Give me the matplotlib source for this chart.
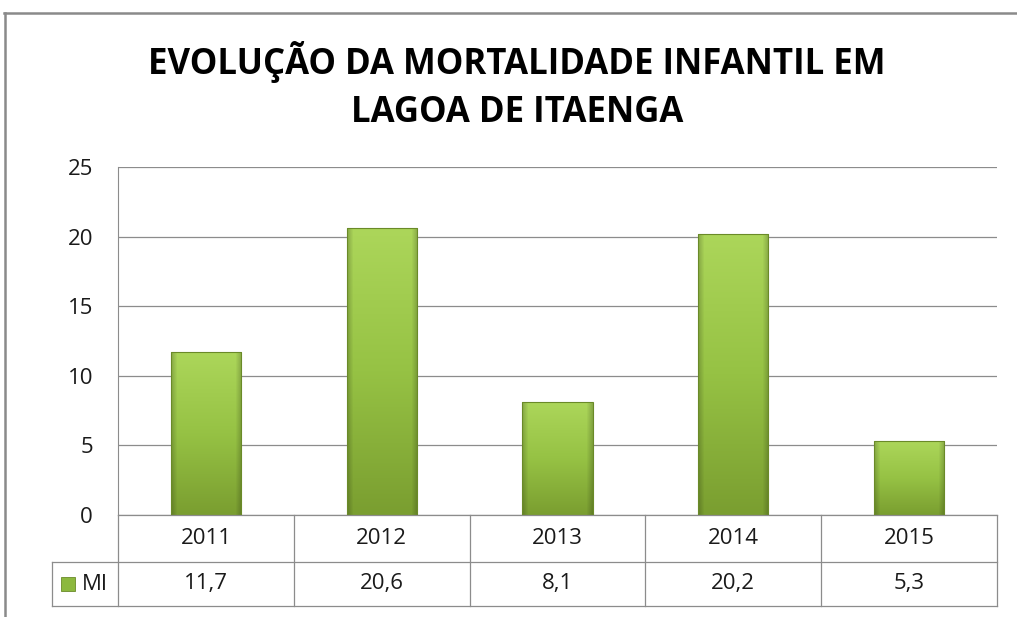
import numpy as np
import matplotlib
matplotlib.use("Agg")
import matplotlib.pyplot as plt
from matplotlib.colors import LinearSegmentedColormap

# data
years = ['2011', '2012', '2013', '2014', '2015']
mi = [11.7, 20.6, 8.1, 20.2, 5.3]
mi_labels = ['11,7', '20,6', '8,1', '20,2', '5,3']
series_name = 'MI'
title_lines = ['EVOLUÇÃO DA MORTALIDADE INFANTIL EM', 'LAGOA DE ITAENGA']

plt.rcParams['font.family'] = ['Open Sans', 'DejaVu Sans']

W, H = 1017, 617
fig = plt.figure(figsize=(W / 100, H / 100), dpi=100)

# plot area in pixels: left 118, right 997, top 167, bottom 515
ax = fig.add_axes([118 / W, 1 - 515 / H, (997 - 118) / W, (515 - 167) / H])

x = np.arange(len(years))
bars = ax.bar(x, mi, width=0.4, color='none', edgecolor='#6a8a28',
              linewidth=0.8, zorder=3)

# green gradient with a little bevel on each bar
cmap = LinearSegmentedColormap.from_list('g', ['#acd65a', '#96c244', '#7a9e30'])
ny, nx = 200, 60
vert = cmap(np.linspace(0, 1, ny))[:, :3]
img = np.repeat(vert[:, None, :], nx, axis=1)
shade = np.ones((ny, nx))
edge = 5
for i in range(edge):
    f = 0.80 + 0.2 * i / edge
    shade[:, i] *= f
    shade[:, nx - 1 - i] *= f
img = np.clip(img * shade[:, :, None], 0, 1)
for b in bars:
    im = ax.imshow(img, extent=[b.get_x(), b.get_x() + b.get_width(), 0, b.get_height()],
                   aspect='auto', origin='upper', zorder=2, interpolation='bilinear')
    im.set_clip_path(b)

ax.set_xlim(-0.5, len(years) - 0.5)
ax.set_ylim(0, 25)
ax.set_yticks([0, 5, 10, 15, 20, 25])
ax.set_xticks([])
ax.yaxis.grid(True, color='#8c8c8c', linewidth=0.9, zorder=0)
ax.set_axisbelow(True)
for s in ['top', 'right', 'bottom']:
    ax.spines[s].set_visible(False)
ax.spines['left'].set_color('#8c8c8c')
ax.tick_params(axis='y', length=0, pad=18, labelsize=16, labelcolor='#1a1a1a')

# data table under the plot (axes coords)
gc = '#8c8c8c'
ph = 515 - 167
r1 = -47 / ph
r2 = -91 / ph
xl = (52 - 118) / (997 - 118)
n = len(years)
kw = dict(transform=ax.transAxes, color=gc, linewidth=0.9, clip_on=False)
ax.plot([0, 1], [0, 0], **kw)
ax.plot([xl, 1], [r1, r1], **kw)
ax.plot([xl, 1], [r2, r2], **kw)
for i in range(n + 1):
    ax.plot([i / n, i / n], [0, r2], **kw)
ax.plot([xl, xl], [r1, r2], **kw)

for i in range(n):
    cx = (i + 0.5) / n
    ax.text(cx, r1 / 2, years[i], transform=ax.transAxes, ha='center', va='center',
            fontsize=16, color='#1a1a1a')
    ax.text(cx, (r1 + r2) / 2, mi_labels[i], transform=ax.transAxes, ha='center',
            va='center', fontsize=16, color='#1a1a1a')

# legend key + series name
pw = 997 - 118
ky = (r1 + r2) / 2
kh = 14 / ph
key = plt.Rectangle(((61 - 118) / pw, ky - kh / 2), 14 / pw, kh, transform=ax.transAxes,
                    facecolor='#8cb83e', edgecolor='#6a8a28', linewidth=0.6, clip_on=False)
ax.add_patch(key)
ax.text((82 - 118) / pw, ky, series_name, transform=ax.transAxes,
        ha='left', va='center', fontsize=16, color='#1a1a1a')

# title
fig.text(517 / W, 1 - 74 / H, title_lines[0], ha='center', va='baseline',
         fontsize=25, fontweight='bold', color='#000000')
fig.text(517 / W, 1 - 122 / H, title_lines[1], ha='center', va='baseline',
         fontsize=25, fontweight='bold', color='#000000')

# chart frame (top and left edges visible in the crop)
fig.add_artist(plt.Line2D([4 / W, 1], [1 - 13 / H, 1 - 13 / H], color='#8a8a8a',
                          linewidth=1.8, transform=fig.transFigure))
fig.add_artist(plt.Line2D([5 / W, 5 / W], [0, 1 - 13 / H], color='#8a8a8a',
                          linewidth=1.8, transform=fig.transFigure))

fig.savefig('out.png', dpi=100)
